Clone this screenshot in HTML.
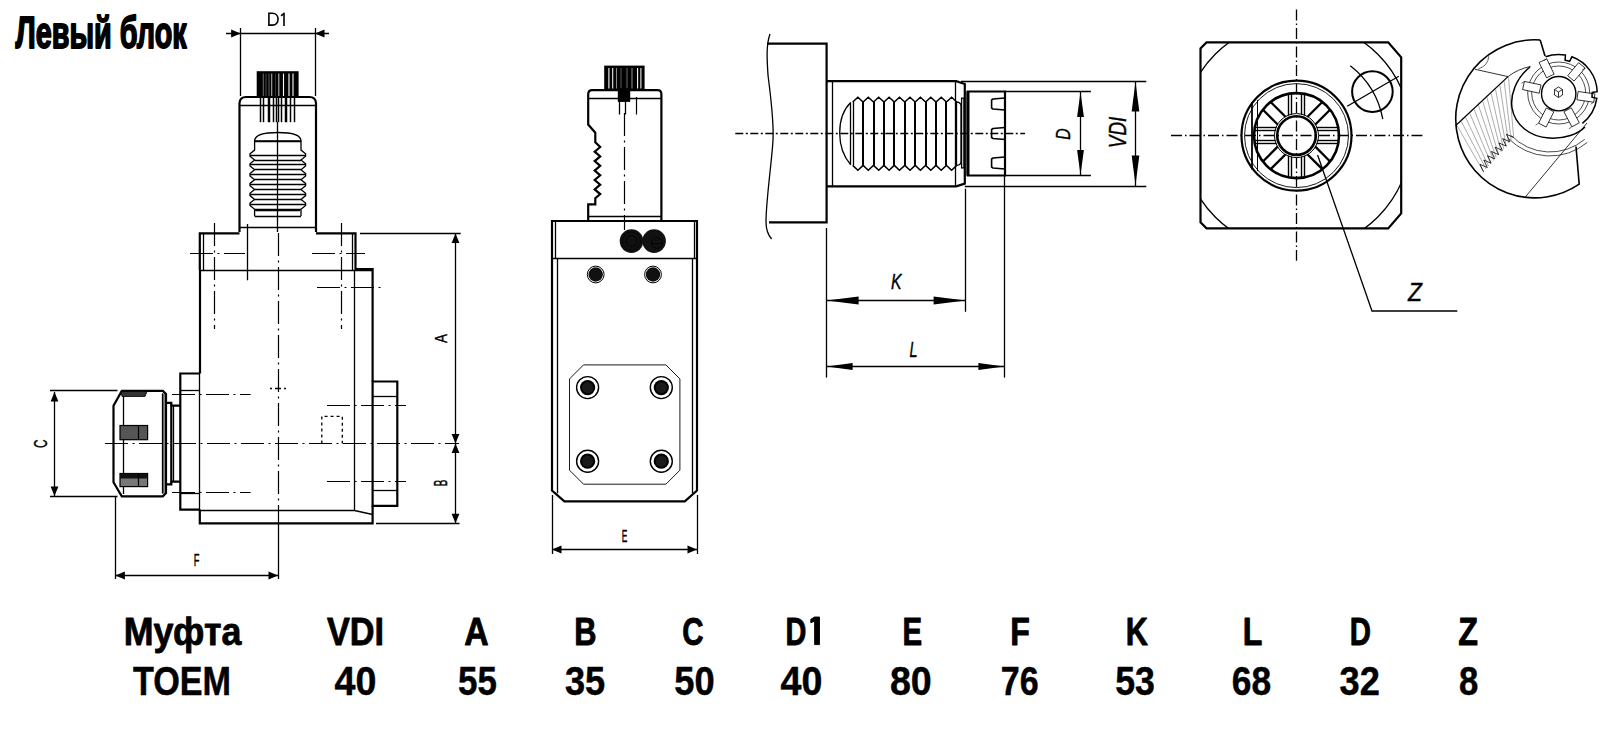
<!DOCTYPE html>
<html><head><meta charset="utf-8"><style>
html,body{margin:0;padding:0;background:#fff;width:1600px;height:733px;overflow:hidden}
svg{display:block;font-family:"Liberation Sans",sans-serif}
</style></head><body>
<svg width="1600" height="733" viewBox="0 0 1600 733" stroke="#000" fill="none" stroke-linecap="butt">
<g fill="#000">
<line x1="226.0" y1="33.5" x2="329.0" y2="33.5" stroke-width="1.3" />
<polygon points="240.6,33.5 231.1,37.4 231.1,29.6" fill="#000" stroke="none"/>
<polygon points="315.0,33.5 324.5,29.6 324.5,37.4" fill="#000" stroke="none"/>
<line x1="240.5" y1="28.0" x2="240.5" y2="96.0" stroke-width="1.3" />
<line x1="315.5" y1="28.0" x2="315.5" y2="96.0" stroke-width="1.3" />
<rect x="256.7" y="71.2" width="41.9" height="25.8" stroke-width="0" fill="#000"/>
<line x1="263.3" y1="73.5" x2="263.3" y2="96" stroke="#666" stroke-width="1.1"/>
<line x1="266" y1="73.5" x2="266" y2="96" stroke="#444" stroke-width="1.1"/>
<line x1="269" y1="73.5" x2="269" y2="96" stroke="#555" stroke-width="1.1"/>
<line x1="271.7" y1="73.5" x2="271.7" y2="96" stroke="#aaa" stroke-width="1.1"/>
<line x1="275.5" y1="73.5" x2="275.5" y2="96" stroke="#333" stroke-width="1.1"/>
<line x1="278.8" y1="73.5" x2="278.8" y2="96" stroke="#bbb" stroke-width="1.1"/>
<line x1="283.5" y1="73.5" x2="283.5" y2="96" stroke="#fff" stroke-width="1.1"/>
<line x1="289" y1="73.5" x2="289" y2="96" stroke="#fff" stroke-width="1.1"/>
<line x1="293" y1="73.5" x2="293" y2="96" stroke="#fff" stroke-width="1.1"/>
<line x1="260.5" y1="97.0" x2="260.5" y2="122.2" stroke-width="1.5" />
<line x1="263.5" y1="97.0" x2="263.5" y2="122.2" stroke-width="1.5" />
<line x1="268.5" y1="97.0" x2="268.5" y2="122.2" stroke-width="1.5" />
<line x1="269.5" y1="97.0" x2="269.5" y2="122.2" stroke-width="1.5" />
<line x1="273.5" y1="97.0" x2="273.5" y2="122.2" stroke-width="1.5" />
<line x1="276.5" y1="97.0" x2="276.5" y2="122.2" stroke-width="1.5" />
<line x1="278.5" y1="97.0" x2="278.5" y2="122.2" stroke-width="1.5" />
<line x1="281.5" y1="97.0" x2="281.5" y2="122.2" stroke-width="1.5" />
<line x1="285.5" y1="97.0" x2="285.5" y2="122.2" stroke-width="1.5" />
<line x1="286.5" y1="97.0" x2="286.5" y2="122.2" stroke-width="1.5" />
<line x1="290.5" y1="97.0" x2="290.5" y2="122.2" stroke-width="1.5" />
<line x1="294.5" y1="97.0" x2="294.5" y2="122.2" stroke-width="1.5" />
<path d="M239.5,232 L239.5,103 Q240,97 246,97 L309.5,97 Q315.5,97 316,103 L316,232" stroke-width="2.2" fill="none" />
<line x1="240.0" y1="105.5" x2="315.5" y2="105.5" stroke-width="1.3" />
<line x1="240.0" y1="227.5" x2="315.5" y2="227.5" stroke-width="1.3" />
<line x1="277.5" y1="122.0" x2="277.5" y2="232.0" stroke-width="1.3" />
<path d="M254.6,141 C254.6,134 266,132.5 277.8,132.5 C289.6,132.5 301,134 301,141 Z" stroke-width="1.3" fill="none" />
<path d="M254.6,141.0 L254.6,150.1 L250.0,153.8 L250.0,156.2 L254.6,160.0 L250.0,163.7 L250.0,166.0 L254.6,169.8 L250.0,173.5 L250.0,175.9 L254.6,179.7 L250.0,183.4 L250.0,185.8 L254.6,189.6 L250.0,193.2 L250.0,195.6 L254.6,199.4 L250.0,203.1 L250.0,205.4 L254.6,209.2 L254.6,216.0" stroke-width="1.3" fill="none" />
<path d="M301.0,141.0 L301.0,150.1 L305.6,153.8 L305.6,156.2 L301.0,160.0 L305.6,163.7 L305.6,166.0 L301.0,169.8 L305.6,173.5 L305.6,175.9 L301.0,179.7 L305.6,183.4 L305.6,185.8 L301.0,189.6 L305.6,193.2 L305.6,195.6 L301.0,199.4 L305.6,203.1 L305.6,205.4 L301.0,209.2 L301.0,216.0" stroke-width="1.3" fill="none" />
<line x1="254.6" y1="216.5" x2="301.0" y2="216.5" stroke-width="1.3" />
<line x1="254.6" y1="141.5" x2="301.0" y2="141.5" stroke-width="1.3" />
<line x1="250.0" y1="155.5" x2="305.6" y2="155.5" stroke-width="1.5" />
<line x1="254.6" y1="160.5" x2="301.0" y2="160.5" stroke-width="1.3" />
<line x1="250.0" y1="164.5" x2="305.6" y2="164.5" stroke-width="1.5" />
<line x1="254.6" y1="169.5" x2="301.0" y2="169.5" stroke-width="1.3" />
<line x1="250.0" y1="174.5" x2="305.6" y2="174.5" stroke-width="1.5" />
<line x1="254.6" y1="179.5" x2="301.0" y2="179.5" stroke-width="1.3" />
<line x1="250.0" y1="184.5" x2="305.6" y2="184.5" stroke-width="1.5" />
<line x1="254.6" y1="189.5" x2="301.0" y2="189.5" stroke-width="1.3" />
<line x1="250.0" y1="194.5" x2="305.6" y2="194.5" stroke-width="1.5" />
<line x1="254.6" y1="199.5" x2="301.0" y2="199.5" stroke-width="1.3" />
<line x1="250.0" y1="204.5" x2="305.6" y2="204.5" stroke-width="1.5" />
<line x1="254.6" y1="209.5" x2="301.0" y2="209.5" stroke-width="1.3" />
<line x1="255.2" y1="210.5" x2="299.9" y2="210.5" stroke-width="1.3" />
<path d="M199.8,270 L199.8,233.4 L239.5,233.4" stroke-width="2.2" fill="none" />
<path d="M316,233.4 L355.5,233.4 L355.5,270" stroke-width="2.2" fill="none" />
<line x1="203.5" y1="233.4" x2="203.5" y2="270.0" stroke-width="1.3" />
<line x1="352.5" y1="233.4" x2="352.5" y2="270.0" stroke-width="1.3" />
<line x1="199.8" y1="270.5" x2="372.6" y2="270.5" stroke-width="1.3" />
<path d="M355.5,269 L372.6,269 L372.6,381.5" stroke-width="2.2" fill="none" />
<path d="M372.6,505.8 L372.6,523.3 L199.8,523.3 L199.8,509.6" stroke-width="2.2" fill="none" />
<line x1="200.0" y1="270.0" x2="200.0" y2="373.5" stroke-width="2.2" />
<line x1="354.5" y1="270.0" x2="354.5" y2="510.5" stroke-width="1.3" />
<path d="M199.8,510.5 L354.5,510.5 L372.6,514.5" stroke-width="1.3" fill="none" />
<path d="M372.6,381.5 L397.3,381.5 L397.3,505.8 L372.6,505.8 Z" stroke-width="2.2" fill="none" />
<line x1="372.6" y1="396.5" x2="397.3" y2="396.5" stroke-width="1.3" />
<line x1="372.6" y1="490.5" x2="397.3" y2="490.5" stroke-width="1.3" />
<path d="M199.8,373.5 L180.3,373.5 L180.3,509.6 L199.8,509.6" stroke-width="2.2" fill="none" />
<line x1="180.3" y1="390.5" x2="199.8" y2="390.5" stroke-width="1.3" />
<line x1="180.3" y1="493.5" x2="199.8" y2="493.5" stroke-width="1.3" />
<line x1="199.5" y1="373.5" x2="199.5" y2="509.6" stroke-width="1.3" />
<path d="M180.3,405.6 L171.3,405.6 L171.3,481.6 L180.3,481.6" stroke-width="2.2" fill="none" />
<line x1="173.5" y1="405.6" x2="173.5" y2="481.6" stroke-width="1.3" />
<path d="M166,402.9 L171.3,402.9 L171.3,405.6 M166,484.3 L171.3,484.3 L171.3,481.6" stroke-width="2.2" fill="none" />
<rect x="162.3" y="393.5" width="2.5" height="100.0" stroke-width="0" fill="#777"/>
<path d="M121.8,390.9 L162.8,390.9 L166,394 L166,493 L162.8,496.3 L121.8,496.3 L113.5,482.3 L113.5,405.8 Z" stroke-width="2.2" fill="none" />
<line x1="123.5" y1="393.0" x2="123.5" y2="494.0" stroke-width="1.3" />
<line x1="162.5" y1="393.5" x2="162.5" y2="493.5" stroke-width="1.3" />
<rect x="120.0" y="425.5" width="27.6" height="14.2" stroke-width="1.2" fill="#555"/>
<line x1="138.5" y1="425.5" x2="138.5" y2="439.7" stroke-width="1.2" />
<rect x="120.0" y="473.5" width="27.6" height="13.1" stroke-width="1.2" fill="#777"/>
<rect x="120.0" y="473.5" width="27.6" height="5.0" stroke-width="0" fill="#111"/>
<line x1="138.5" y1="473.5" x2="138.5" y2="486.6" stroke-width="1.2" />
<path d="M121,391.5 L147,391.5 L145,396.5 L122,396.5 Z" stroke-width="0.8" fill="#333" />
<line x1="278.5" y1="233.0" x2="278.5" y2="523.3" stroke-width="1.2" stroke-dasharray="23 4.5 2 4.5"/>
<line x1="278.5" y1="523.3" x2="278.5" y2="579.0" stroke-width="1.3" />
<line x1="105.0" y1="443.5" x2="459.0" y2="443.5" stroke-width="1.2" stroke-dasharray="23 4.5 2 4.5"/>
<line x1="214.5" y1="223.0" x2="214.5" y2="329.0" stroke-width="1.2" stroke-dasharray="23 4.5 2 4.5"/>
<line x1="341.5" y1="223.0" x2="341.5" y2="329.0" stroke-width="1.2" stroke-dasharray="23 4.5 2 4.5"/>
<line x1="190.0" y1="253.5" x2="245.0" y2="253.5" stroke-width="1.2" stroke-dasharray="23 4.5 2 4.5"/>
<line x1="312.0" y1="253.5" x2="365.0" y2="253.5" stroke-width="1.2" stroke-dasharray="23 4.5 2 4.5"/>
<line x1="247.5" y1="224.0" x2="247.5" y2="280.3" stroke-width="1.3" />
<line x1="317.0" y1="287.5" x2="383.0" y2="287.5" stroke-width="1.2" stroke-dasharray="23 4.5 2 4.5"/>
<line x1="172.0" y1="394.5" x2="250.6" y2="394.5" stroke-width="1.2" stroke-dasharray="23 4.5 2 4.5"/>
<line x1="172.0" y1="492.5" x2="250.6" y2="492.5" stroke-width="1.2" stroke-dasharray="23 4.5 2 4.5"/>
<line x1="327.0" y1="405.5" x2="406.0" y2="405.5" stroke-width="1.2" stroke-dasharray="23 4.5 2 4.5"/>
<line x1="327.0" y1="481.5" x2="406.0" y2="481.5" stroke-width="1.2" stroke-dasharray="23 4.5 2 4.5"/>
<path d="M321.8,443.6 L321.8,416.4 L342.3,416.4 L342.3,443.6" stroke-width="1.3" fill="none" stroke-dasharray="3 3"/>
<line x1="270.0" y1="388.5" x2="289.0" y2="388.5" stroke-width="1.3" stroke-dasharray="2 3 6 3"/>
<line x1="455.5" y1="233.4" x2="455.5" y2="523.3" stroke-width="1.3" />
<polygon points="455.5,233.4 459.4,242.9 451.6,242.9" fill="#000" stroke="none"/>
<polygon points="455.5,443.6 451.6,434.1 459.4,434.1" fill="#000" stroke="none"/>
<polygon points="455.5,443.6 459.4,453.1 451.6,453.1" fill="#000" stroke="none"/>
<polygon points="455.5,523.3 451.6,513.8 459.4,513.8" fill="#000" stroke="none"/>
<line x1="360.0" y1="233.5" x2="460.7" y2="233.5" stroke-width="1.3" />
<line x1="376.0" y1="523.5" x2="459.5" y2="523.5" stroke-width="1.3" />
<line x1="54.5" y1="392.0" x2="54.5" y2="496.0" stroke-width="1.3" />
<polygon points="54.5,392.0 58.4,401.5 50.6,401.5" fill="#000" stroke="none"/>
<polygon points="54.5,496.0 50.6,486.5 58.4,486.5" fill="#000" stroke="none"/>
<line x1="50.0" y1="390.5" x2="117.5" y2="390.5" stroke-width="1.3" />
<line x1="50.0" y1="496.5" x2="117.5" y2="496.5" stroke-width="1.3" />
<line x1="115.5" y1="496.0" x2="115.5" y2="579.0" stroke-width="1.3" />
<line x1="115.4" y1="575.5" x2="278.0" y2="575.5" stroke-width="1.3" />
<polygon points="115.4,575.5 124.9,571.6 124.9,579.4" fill="#000" stroke="none"/>
<polygon points="278.0,575.5 268.5,579.4 268.5,571.6" fill="#000" stroke="none"/>
<rect x="604.2" y="65.6" width="40.4" height="24.6" stroke-width="0" fill="#000"/>
<line x1="608.9" y1="68" x2="608.9" y2="88.5" stroke="#fff" stroke-width="1.1"/>
<line x1="612.7" y1="68" x2="612.7" y2="88.5" stroke="#eee" stroke-width="1.1"/>
<line x1="616.5" y1="68" x2="616.5" y2="88.5" stroke="#888" stroke-width="1.1"/>
<line x1="621" y1="68" x2="621" y2="88.5" stroke="#555" stroke-width="1.1"/>
<line x1="627" y1="68" x2="627" y2="88.5" stroke="#666" stroke-width="1.1"/>
<line x1="632" y1="68" x2="632" y2="88.5" stroke="#888" stroke-width="1.1"/>
<line x1="637.6" y1="68" x2="637.6" y2="88.5" stroke="#fff" stroke-width="1.1"/>
<line x1="640.9" y1="68" x2="640.9" y2="88.5" stroke="#eee" stroke-width="1.1"/>
<rect x="617.8" y="88.0" width="12.4" height="13.9" stroke-width="0" fill="#000"/>
<line x1="619.5" y1="100.0" x2="619.5" y2="114.5" stroke-width="1.3" />
<line x1="636.5" y1="97.0" x2="636.5" y2="114.5" stroke-width="1.2" />
<line x1="625.5" y1="100.0" x2="625.5" y2="114.5" stroke-width="1.3" />
<path d="M661.4,221.2 L661.4,94.5 Q661.4,90.2 657.4,90.2 L592.2,90.2 Q588.2,90.2 588.2,94.5 L588.2,124.5 L595.3,132.7 L595.3,142.3 L600.2,147.0 L594.7,151.7 L600.2,156.4 L594.7,161.1 L600.2,165.8 L594.7,170.6 L600.2,175.3 L594.7,180.0 L600.2,184.7 L594.7,189.4 L600.2,194.1 L595.3,198.2 L595.3,204.4 L588.2,204.4 L588.2,221.2" stroke-width="2.2" fill="none" />
<line x1="588.0" y1="98.5" x2="661.0" y2="98.5" stroke-width="1.3" />
<line x1="588.0" y1="216.5" x2="661.0" y2="216.5" stroke-width="1.3" />
<line x1="624.5" y1="113.0" x2="624.5" y2="230.0" stroke-width="1.2" stroke-dasharray="23 4.5 2 4.5"/>
<path d="M552,221 L697,221 L697,490.5 L684.8,501.4 L564.4,501.4 L552,490.5 Z" stroke-width="2.2" fill="none" />
<line x1="555.5" y1="221.0" x2="555.5" y2="258.0" stroke-width="1.3" />
<line x1="694.5" y1="221.0" x2="694.5" y2="258.0" stroke-width="1.3" />
<line x1="552.0" y1="258.5" x2="697.0" y2="258.5" stroke-width="1.3" />
<line x1="557.5" y1="258.0" x2="557.5" y2="493.3" stroke-width="1.3" />
<line x1="692.5" y1="258.0" x2="692.5" y2="493.3" stroke-width="1.3" />
<circle cx="631.5" cy="241.1" r="11.8" stroke-width="0" fill="#111"/>
<circle cx="654.1" cy="241.1" r="11.8" stroke-width="0" fill="#111"/>
<circle cx="631.5" cy="241.1" r="5.5" stroke-width="0.8" fill="none"/>
<circle cx="631.5" cy="241.1" r="9.0" stroke-width="0.6" fill="none"/>
<circle cx="657.0" cy="243.0" r="5.5" stroke-width="0.8" fill="none"/>
<line x1="651.5" y1="243.5" x2="662.0" y2="243.5" stroke-width="0.8" />
<circle cx="595.7" cy="274.5" r="8.4" stroke-width="1.0" fill="none"/>
<circle cx="595.7" cy="274.5" r="7.2" stroke-width="0" fill="#111"/>
<circle cx="653.0" cy="274.5" r="8.4" stroke-width="1.0" fill="none"/>
<circle cx="653.0" cy="274.5" r="7.2" stroke-width="0" fill="#111"/>
<path d="M583.5,364.9 L665.9,364.9 L679.9,378.9 L679.9,470.2 L665.9,484.2 L583.5,484.2 L569.5,470.2 L569.5,378.9 Z" stroke-width="0.9" fill="none" />
<circle cx="587.6" cy="387.6" r="11.0" stroke-width="1.4" fill="none"/>
<circle cx="587.6" cy="387.6" r="7.6" stroke-width="0" fill="#000"/>
<circle cx="587.6" cy="387.6" r="5.6" stroke-width="0" fill="#1a1a1a"/>
<circle cx="661.3" cy="387.6" r="11.0" stroke-width="1.4" fill="none"/>
<circle cx="661.3" cy="387.6" r="7.6" stroke-width="0" fill="#000"/>
<circle cx="661.3" cy="387.6" r="5.6" stroke-width="0" fill="#1a1a1a"/>
<circle cx="587.6" cy="461.2" r="11.0" stroke-width="1.4" fill="none"/>
<circle cx="587.6" cy="461.2" r="7.6" stroke-width="0" fill="#000"/>
<circle cx="587.6" cy="461.2" r="5.6" stroke-width="0" fill="#1a1a1a"/>
<circle cx="661.3" cy="461.2" r="11.0" stroke-width="1.4" fill="none"/>
<circle cx="661.3" cy="461.2" r="7.6" stroke-width="0" fill="#000"/>
<circle cx="661.3" cy="461.2" r="5.6" stroke-width="0" fill="#1a1a1a"/>
<line x1="552.5" y1="495.0" x2="552.5" y2="554.0" stroke-width="1.3" />
<line x1="697.5" y1="495.0" x2="697.5" y2="554.0" stroke-width="1.3" />
<line x1="552.0" y1="549.5" x2="697.0" y2="549.5" stroke-width="1.3" />
<polygon points="552.0,549.5 561.5,545.6 561.5,553.4" fill="#000" stroke="none"/>
<polygon points="697.0,549.5 687.5,553.4 687.5,545.6" fill="#000" stroke="none"/>
<path d="M770,34 C766,45 767,60 768,75 C771,100 774,120 773,140 C772,160 766,200 766,222 C766,230 769,236 771.6,239" stroke-width="1.3" fill="none" />
<path d="M767,43.7 L826.6,43.7 L826.6,222.4 L769,222.4" stroke-width="2.2" fill="none" />
<path d="M826.6,81.2 L956.2,81.2 L964.8,84 L964.8,183.6 L956.2,186.4 L826.6,186.4" stroke-width="2.2" fill="none" />
<line x1="832.5" y1="81.2" x2="832.5" y2="186.4" stroke-width="1.3" />
<line x1="955.5" y1="81.2" x2="955.5" y2="186.4" stroke-width="1.3" />
<path d="M852.7,102.0 L857.9,97.3 L863.1,102.0 L868.3,97.3 L873.5,102.0 L878.7,97.3 L883.9,102.0 L889.1,97.3 L894.3,102.0 L899.5,97.3 L904.8,102.0 L910.0,97.3 L915.2,102.0 L920.4,97.3 L925.6,102.0 L930.8,97.3 L936.0,102.0 L941.2,97.3 L946.4,102.0 L951.6,97.3 L956.8,102.0" stroke-width="1.5" fill="none" />
<path d="M852.7,165.4 L857.9,170.3 L863.1,165.4 L868.3,170.3 L873.5,165.4 L878.7,170.3 L883.9,165.4 L889.1,170.3 L894.3,165.4 L899.5,170.3 L904.8,165.4 L910.0,170.3 L915.2,165.4 L920.4,170.3 L925.6,165.4 L930.8,170.3 L936.0,165.4 L941.2,170.3 L946.4,165.4 L951.6,170.3 L956.8,165.4" stroke-width="1.5" fill="none" />
<line x1="863.0" y1="102.0" x2="863.0" y2="165.4" stroke-width="2.0" />
<line x1="874.0" y1="102.0" x2="874.0" y2="165.4" stroke-width="2.0" />
<line x1="884.0" y1="102.0" x2="884.0" y2="165.4" stroke-width="2.0" />
<line x1="894.0" y1="102.0" x2="894.0" y2="165.4" stroke-width="2.0" />
<line x1="905.0" y1="102.0" x2="905.0" y2="165.4" stroke-width="2.0" />
<line x1="915.0" y1="102.0" x2="915.0" y2="165.4" stroke-width="2.0" />
<line x1="926.0" y1="102.0" x2="926.0" y2="165.4" stroke-width="2.0" />
<line x1="936.0" y1="102.0" x2="936.0" y2="165.4" stroke-width="2.0" />
<line x1="946.0" y1="102.0" x2="946.0" y2="165.4" stroke-width="2.0" />
<line x1="850.5" y1="102.5" x2="850.5" y2="164.7" stroke-width="1.3" />
<line x1="853.5" y1="102.0" x2="853.5" y2="165.4" stroke-width="1.3" />
<line x1="956.5" y1="102.0" x2="956.5" y2="165.4" stroke-width="1.3" />
<path d="M850.7,102.5 C843,110 839.7,122 839.7,133 C839.7,144 843,156 850.7,164.7" stroke-width="1.3" fill="none" />
<path d="M956.8,102 Q961,102.5 961,106 L961,161.5 Q961,165 956.8,165.4" stroke-width="1.3" fill="none" />
<rect x="961.6" y="98.2" width="2.4" height="69.7" stroke-width="1.3" fill="none"/>
<path d="M967.7,91.5 L1005,91.5 L1005,175.5 L967.7,175.5 Z" stroke-width="2.2" fill="none" />
<line x1="968.0" y1="91.5" x2="968.0" y2="175.5" stroke-width="3" />
<path d="M1005,98 L993,99 L991.6,100 L991.6,108 L993,109 L1005,110" stroke-width="1.6" fill="none" />
<path d="M1005,127.5 L993,128.5 L991.6,129.5 L991.6,137.5 L993,138.5 L1005,139.5" stroke-width="1.6" fill="none" />
<path d="M1005,157 L993,158 L991.6,159 L991.6,167 L993,168 L1005,169" stroke-width="1.6" fill="none" />
<line x1="735.3" y1="133.5" x2="1025.0" y2="133.5" stroke-width="1.5" stroke-dasharray="8 2.5 2 2.5"/>
<line x1="961.0" y1="81.5" x2="1146.3" y2="81.5" stroke-width="1.3" />
<line x1="964.8" y1="186.5" x2="1146.3" y2="186.5" stroke-width="1.3" />
<line x1="1135.5" y1="81.0" x2="1135.5" y2="186.0" stroke-width="1.3" />
<polygon points="1135.5,81.5 1139.3,111.5 1131.7,111.5" fill="#000" stroke="none"/>
<polygon points="1135.5,185.5 1131.7,155.5 1139.3,155.5" fill="#000" stroke="none"/>
<line x1="1005.0" y1="91.5" x2="1090.9" y2="91.5" stroke-width="1.3" />
<line x1="1005.0" y1="175.5" x2="1090.9" y2="175.5" stroke-width="1.3" />
<line x1="1080.5" y1="91.5" x2="1080.5" y2="175.5" stroke-width="1.3" />
<polygon points="1080.5,92.0 1083.9,117.0 1077.1,117.0" fill="#000" stroke="none"/>
<polygon points="1080.5,175.0 1077.1,150.0 1083.9,150.0" fill="#000" stroke="none"/>
<line x1="826.5" y1="228.0" x2="826.5" y2="377.6" stroke-width="1.3" />
<line x1="965.5" y1="188.6" x2="965.5" y2="311.8" stroke-width="1.3" />
<line x1="1004.5" y1="175.5" x2="1004.5" y2="377.6" stroke-width="1.3" />
<line x1="826.6" y1="300.5" x2="965.6" y2="300.5" stroke-width="1.3" />
<polygon points="826.6,300.5 858.6,296.5 858.6,304.5" fill="#000" stroke="none"/>
<polygon points="965.6,300.5 933.6,304.5 933.6,296.5" fill="#000" stroke="none"/>
<line x1="826.6" y1="366.5" x2="1004.4" y2="366.5" stroke-width="1.3" />
<polygon points="826.6,366.5 852.6,362.9 852.6,370.1" fill="#000" stroke="none"/>
<polygon points="1004.4,366.5 978.4,370.1 978.4,362.9" fill="#000" stroke="none"/>
<path d="M1206.5,42.4 L1388.2,42.4 L1401.2,57.4 L1401.2,213.4 L1388.2,228.4 L1206.5,228.4 L1200.5,222.4 L1200.5,48.4 Z" stroke-width="2.2" fill="none" />
<clipPath id="sq"><rect x="1200.5" y="42.4" width="200.70000000000005" height="186.0"/></clipPath>
<circle cx="1296.5" cy="135.6" r="115" stroke-width="1.3" fill="none" clip-path="url(#sq)"/>
<line x1="1296.5" y1="9.6" x2="1296.5" y2="260.7" stroke-width="1.3" stroke-dasharray="11 3 1.5 3"/>
<line x1="1171.0" y1="135.5" x2="1422.4" y2="135.5" stroke-width="1.3" stroke-dasharray="11 3 1.5 3"/>
<circle cx="1296.5" cy="135.6" r="55.0" stroke-width="2.2" fill="none"/>
<circle cx="1296.5" cy="135.6" r="52.0" stroke-width="0.9" fill="none"/>
<circle cx="1296.5" cy="135.6" r="42.5" stroke-width="2.6" fill="none"/>
<circle cx="1296.5" cy="135.6" r="22.0" stroke-width="1.0" fill="none"/>
<circle cx="1296.5" cy="135.6" r="19.3" stroke-width="2.6" fill="none"/>
<line x1="1316.5" y1="127.5" x2="1337.8" y2="127.5" stroke-width="1.4" />
<line x1="1317.4" y1="130.5" x2="1338.2" y2="130.5" stroke-width="1.4" />
<line x1="1317.4" y1="140.5" x2="1338.2" y2="140.5" stroke-width="1.4" />
<line x1="1316.5" y1="143.5" x2="1337.8" y2="143.5" stroke-width="1.4" />
<line x1="1315.1" y1="146.4" x2="1329.8" y2="161.2" stroke-width="2.3" />
<line x1="1307.3" y1="154.2" x2="1322.1" y2="168.9" stroke-width="2.3" />
<line x1="1304.5" y1="155.6" x2="1304.5" y2="176.9" stroke-width="1.4" />
<line x1="1301.5" y1="156.5" x2="1301.5" y2="177.3" stroke-width="1.4" />
<line x1="1291.5" y1="156.5" x2="1291.5" y2="177.3" stroke-width="1.4" />
<line x1="1288.5" y1="155.6" x2="1288.5" y2="176.9" stroke-width="1.4" />
<line x1="1285.7" y1="154.2" x2="1270.9" y2="168.9" stroke-width="2.3" />
<line x1="1277.9" y1="146.4" x2="1263.2" y2="161.2" stroke-width="2.3" />
<line x1="1276.5" y1="143.5" x2="1255.2" y2="143.5" stroke-width="1.4" />
<line x1="1275.6" y1="140.5" x2="1254.8" y2="140.5" stroke-width="1.4" />
<line x1="1275.6" y1="130.5" x2="1254.8" y2="130.5" stroke-width="1.4" />
<line x1="1276.5" y1="127.5" x2="1255.2" y2="127.5" stroke-width="1.4" />
<line x1="1277.9" y1="124.8" x2="1263.2" y2="110.0" stroke-width="2.3" />
<line x1="1285.7" y1="117.0" x2="1270.9" y2="102.3" stroke-width="2.3" />
<line x1="1288.5" y1="115.6" x2="1288.5" y2="94.3" stroke-width="1.4" />
<line x1="1291.5" y1="114.7" x2="1291.5" y2="93.9" stroke-width="1.4" />
<line x1="1301.5" y1="114.7" x2="1301.5" y2="93.9" stroke-width="1.4" />
<line x1="1304.5" y1="115.6" x2="1304.5" y2="94.3" stroke-width="1.4" />
<line x1="1307.3" y1="117.0" x2="1322.1" y2="102.3" stroke-width="2.3" />
<line x1="1315.1" y1="124.8" x2="1329.8" y2="110.0" stroke-width="2.3" />
<line x1="1252.0" y1="102.0" x2="1252.0" y2="169.4" stroke-width="1.8" />
<line x1="1257.5" y1="100.0" x2="1257.5" y2="171.0" stroke-width="1.0" />
<path d="M1350.3,65.8 A88 88 0 0 1 1382.8,119.2" stroke-width="1.3" fill="none"/>
<circle cx="1372.4" cy="91.6" r="20.3" stroke-width="2.0" fill="none"/>
<line x1="1347.2" y1="106.3" x2="1398.8" y2="76.2" stroke-width="1.3" />
<path d="M1317.6,155 L1372,311 L1457.3,311" stroke-width="1.3" fill="none" />
<g><path d="M1511.2,135.5 A54 54 0 0 0 1584.7,139.4" stroke-width="0.7" fill="none"/><path d="M1508.3,138.3 A58 58 0 0 0 1587.3,142.4" stroke-width="0.7" fill="none"/><line x1="1457.0" y1="125.5" x2="1483.5" y2="171.8" stroke="#888" stroke-width="0.7"/><line x1="1461.3" y1="121.5" x2="1486.0" y2="168.9" stroke="#888" stroke-width="0.7"/><line x1="1465.6" y1="117.5" x2="1488.5" y2="166.1" stroke="#888" stroke-width="0.7"/><line x1="1469.9" y1="113.5" x2="1491.0" y2="163.2" stroke="#888" stroke-width="0.7"/><line x1="1474.2" y1="109.5" x2="1493.6" y2="160.4" stroke="#888" stroke-width="0.7"/><line x1="1478.5" y1="105.5" x2="1496.1" y2="157.5" stroke="#888" stroke-width="0.7"/><line x1="1482.8" y1="101.5" x2="1498.6" y2="154.7" stroke="#888" stroke-width="0.7"/><line x1="1487.0" y1="97.5" x2="1501.1" y2="151.8" stroke="#888" stroke-width="0.7"/><line x1="1491.3" y1="93.5" x2="1503.6" y2="148.9" stroke="#888" stroke-width="0.7"/><line x1="1495.6" y1="89.5" x2="1506.2" y2="146.1" stroke="#888" stroke-width="0.7"/><line x1="1499.9" y1="85.5" x2="1508.7" y2="143.2" stroke="#888" stroke-width="0.7"/><line x1="1504.2" y1="81.5" x2="1511.2" y2="140.4" stroke="#888" stroke-width="0.7"/><line x1="1508.5" y1="77.5" x2="1513.7" y2="137.5" stroke="#888" stroke-width="0.7"/><polyline points="1483.5,171.8 1480.0,164.3 1487.3,167.5 1483.8,160.0 1491.0,163.2 1487.5,155.7 1494.8,158.9 1491.3,151.4 1498.6,154.7 1495.1,147.2 1502.4,150.4 1498.9,142.9 1506.2,146.1 1502.7,138.6 1509.9,141.8 1506.4,134.3 1513.7,137.5" stroke-width="0.8" fill="none"/><path d="M1455.5,125.7 L1508,76.6" stroke-width="1.3" fill="none"/><path d="M1475,69.3 L1508,76.6" stroke-width="0.8" fill="none"/><path d="M1508,76.6 Q1518,69 1530.5,66.4" stroke-width="0.8" fill="none"/><path d="M1488.8,56.2 Q1488,66 1478.4,68.8" stroke-width="0.6" fill="none"/><path d="M1525.2,197.2 L1587,123" stroke-width="0.8" fill="none"/><path d="M1530,67 C1516,78 1510,95 1512,108 C1515,125 1530,137 1549,138 C1565,139 1578,134 1585,127" stroke-width="1.5" fill="none"/><path d="M1540.2,40 A79 79 0 1 0 1579.2,184.1 L1576,146.5" stroke-width="1.6" fill="none"/><path d="M1540.2,40 L1545,56" stroke-width="1.6" fill="none"/><circle cx="1558.7" cy="93" r="31" stroke-width="0.7" fill="none"/><circle cx="1558.7" cy="93" r="27" stroke-width="0.7" fill="none"/><polygon points="1541.0,84.9 1524.4,81.4 1522.6,89.6 1539.2,93.2" stroke-width="0.8" fill="#fff"/><line x1="1524.4" y1="81.4" x2="1521.4" y2="83.4" stroke-width="0.6"/><polygon points="1554.1,74.1 1546.7,58.8 1539.1,62.5 1546.6,77.8" stroke-width="0.8" fill="#fff"/><line x1="1546.7" y1="58.8" x2="1543.7" y2="60.8" stroke-width="0.6"/><polygon points="1574.1,81.1 1585.1,68.1 1578.6,62.7 1567.7,75.7" stroke-width="0.8" fill="#fff"/><line x1="1585.1" y1="68.1" x2="1582.1" y2="70.1" stroke-width="0.6"/><polygon points="1576.9,99.8 1593.8,102.2 1594.9,93.9 1578.1,91.5" stroke-width="0.8" fill="#fff"/><line x1="1593.8" y1="102.2" x2="1590.8" y2="104.2" stroke-width="0.6"/><polygon points="1563.9,111.7 1571.9,126.8 1579.3,122.8 1571.3,107.8" stroke-width="0.8" fill="#fff"/><line x1="1571.9" y1="126.8" x2="1568.9" y2="128.8" stroke-width="0.6"/><polygon points="1546.3,108.0 1538.6,123.2 1546.1,127.0 1553.8,111.8" stroke-width="0.8" fill="#fff"/><line x1="1538.6" y1="123.2" x2="1535.6" y2="125.2" stroke-width="0.6"/><path d="M1545.5,56.8 A38.5 38.5 0 0 1 1565.4,55.1 L1565.1,60.1 L1569.6,61.3 L1571.9,56.8 A38.5 38.5 0 0 1 1597.2,91.7 L1592.2,92.4 L1592.0,97.1 L1596.8,98.4 A38.5 38.5 0 0 1 1582.4,123.3 " stroke-width="1.5" fill="none"/><circle cx="1558.7" cy="93.7" r="17.2" stroke-width="1.4" fill="#fff"/><path d="M1554.5,89.5 L1558.5,87 L1562.5,89.5 L1562.5,95 L1558.5,97.5 L1554.5,95 Z M1554.5,89.5 L1558.5,92 L1562.5,89.5 M1558.5,92 L1558.5,97.5" stroke-width="0.8" fill="none"/></g>
<path d="M268.9,13.3 L272.3,13.3 C276,13.3 278,16 278,19.2 C278,22.4 276,25.1 272.3,25.1 L268.9,25.1 Z" stroke-width="1.6" fill="none" />
<path d="M281.1,15.8 L284,13.3 L284,25.9" stroke-width="1.6" fill="none" stroke-linejoin="round"/>
<text transform="translate(447.03,343.03) rotate(-90) scale(0.1351,0.1717)" font-size="100" font-style="normal" font-weight="normal" stroke="#000" stroke-width="2.282" stroke-linejoin="round" fill="#000">A</text>
<text transform="translate(447.12,486.32) rotate(-90) scale(0.0978,0.1775)" font-size="100" font-style="normal" font-weight="normal" stroke="#000" stroke-width="2.543" stroke-linejoin="round" fill="#000">B</text>
<text transform="translate(46.95,448.12) rotate(-90) scale(0.1188,0.1796)" font-size="100" font-style="normal" font-weight="normal" stroke="#000" stroke-width="2.346" stroke-linejoin="round" fill="#000">C</text>
<text transform="translate(193.77,566.42) scale(0.0926,0.1703)" font-size="100" font-style="normal" font-weight="normal" stroke="#000" stroke-width="2.662" stroke-linejoin="round" fill="#000">F</text>
<text transform="translate(621.78,542.32) scale(0.0843,0.1717)" font-size="100" font-style="normal" font-weight="normal" stroke="#000" stroke-width="2.734" stroke-linejoin="round" fill="#000">E</text>
<text transform="translate(890.88,289.12) scale(0.1585,0.2225)" font-size="100" font-style="italic" font-weight="normal" stroke="#000" stroke-width="1.838" stroke-linejoin="round" fill="#000">K</text>
<text transform="translate(909.38,357.03) scale(0.1437,0.2239)" font-size="100" font-style="italic" font-weight="normal" stroke="#000" stroke-width="1.904" stroke-linejoin="round" fill="#000">L</text>
<text transform="translate(1069.83,139.83) rotate(-90) scale(0.1576,0.1949)" font-size="100" font-style="italic" font-weight="normal" stroke="#000" stroke-width="1.985" stroke-linejoin="round" fill="#000">D</text>
<text transform="translate(1125.72,148.23) rotate(-90) scale(0.1895,0.2341)" font-size="100" font-style="italic" font-weight="normal" stroke="#000" stroke-width="1.653" stroke-linejoin="round" fill="#000">VDI</text>
<text transform="translate(1408.03,301.43) scale(0.2295,0.2572)" font-size="100" font-style="italic" font-weight="normal" stroke="#000" stroke-width="1.438" stroke-linejoin="round" fill="#000">Z</text>
<text transform="translate(15.60,48.15) scale(0.6481,1)" font-size="44.42" font-weight="bold" font-style="normal" stroke="#000" stroke-width="1.85" stroke-linejoin="round" fill="#000">Левый блок</text>
<text transform="translate(123.75,644.95) scale(0.9126,1)" font-size="39.28" font-weight="bold" font-style="normal" stroke="#000" stroke-width="0.77" stroke-linejoin="round" fill="#000">Муфта</text>
<text transform="translate(326.95,644.95) scale(0.8732,1)" font-size="39.28" font-weight="bold" font-style="normal" stroke="#000" stroke-width="0.80" stroke-linejoin="round" fill="#000">VDI</text>
<text transform="translate(464.35,644.95) scale(0.8593,1)" font-size="39.28" font-weight="bold" font-style="normal" stroke="#000" stroke-width="0.81" stroke-linejoin="round" fill="#000">A</text>
<text transform="translate(574.35,644.95) scale(0.7851,1)" font-size="39.28" font-weight="bold" font-style="normal" stroke="#000" stroke-width="0.89" stroke-linejoin="round" fill="#000">B</text>
<text transform="translate(682.25,644.95) scale(0.7497,1)" font-size="39.28" font-weight="bold" font-style="normal" stroke="#000" stroke-width="0.93" stroke-linejoin="round" fill="#000">C</text>
<text transform="translate(785.55,644.95) scale(0.7355,1)" font-size="39.28" font-weight="bold" font-style="normal" stroke="#000" stroke-width="0.95" stroke-linejoin="round" fill="#000">D</text>
<text transform="translate(902.55,644.95) scale(0.7504,1)" font-size="39.28" font-weight="bold" font-style="normal" stroke="#000" stroke-width="0.93" stroke-linejoin="round" fill="#000">E</text>
<text transform="translate(1010.35,644.95) scale(0.8181,1)" font-size="39.28" font-weight="bold" font-style="normal" stroke="#000" stroke-width="0.86" stroke-linejoin="round" fill="#000">F</text>
<text transform="translate(1125.65,644.95) scale(0.7815,1)" font-size="39.28" font-weight="bold" font-style="normal" stroke="#000" stroke-width="0.90" stroke-linejoin="round" fill="#000">K</text>
<text transform="translate(1242.85,644.95) scale(0.8181,1)" font-size="39.28" font-weight="bold" font-style="normal" stroke="#000" stroke-width="0.86" stroke-linejoin="round" fill="#000">L</text>
<text transform="translate(1349.75,644.95) scale(0.7479,1)" font-size="39.28" font-weight="bold" font-style="normal" stroke="#000" stroke-width="0.94" stroke-linejoin="round" fill="#000">D</text>
<text transform="translate(1458.35,644.95) scale(0.8223,1)" font-size="39.28" font-weight="bold" font-style="normal" stroke="#000" stroke-width="0.85" stroke-linejoin="round" fill="#000">Z</text>
<path d="M814.6,617 L819.5,617 L819.5,644.6 L814.6,644.6 Z M814.6,617 L810.8,619.3 L810.8,622.8 L814.6,621.2 Z" fill="#000" stroke="#000" stroke-width="0.9" stroke-linejoin="round"/>
<text transform="translate(133.00,695.10) scale(0.8453,1)" font-size="40.43" font-weight="bold" font-style="normal" stroke="#000" stroke-width="0.47" stroke-linejoin="round" fill="#000">TOEM</text>
<text transform="translate(334.60,695.10) scale(0.9313,1)" font-size="40.43" font-weight="bold" font-style="normal" stroke="#000" stroke-width="0.43" stroke-linejoin="round" fill="#000">40</text>
<text transform="translate(458.00,695.10) scale(0.8622,1)" font-size="40.43" font-weight="bold" font-style="normal" stroke="#000" stroke-width="0.46" stroke-linejoin="round" fill="#000">55</text>
<text transform="translate(564.90,695.10) scale(0.8957,1)" font-size="40.43" font-weight="bold" font-style="normal" stroke="#000" stroke-width="0.45" stroke-linejoin="round" fill="#000">35</text>
<text transform="translate(674.20,695.10) scale(0.8979,1)" font-size="40.43" font-weight="bold" font-style="normal" stroke="#000" stroke-width="0.45" stroke-linejoin="round" fill="#000">50</text>
<text transform="translate(780.50,695.10) scale(0.9313,1)" font-size="40.43" font-weight="bold" font-style="normal" stroke="#000" stroke-width="0.43" stroke-linejoin="round" fill="#000">40</text>
<text transform="translate(889.90,695.10) scale(0.9313,1)" font-size="40.43" font-weight="bold" font-style="normal" stroke="#000" stroke-width="0.43" stroke-linejoin="round" fill="#000">80</text>
<text transform="translate(1000.80,695.10) scale(0.8411,1)" font-size="40.43" font-weight="bold" font-style="normal" stroke="#000" stroke-width="0.48" stroke-linejoin="round" fill="#000">76</text>
<text transform="translate(1115.20,695.10) scale(0.8823,1)" font-size="40.43" font-weight="bold" font-style="normal" stroke="#000" stroke-width="0.45" stroke-linejoin="round" fill="#000">53</text>
<text transform="translate(1231.80,695.10) scale(0.8745,1)" font-size="40.43" font-weight="bold" font-style="normal" stroke="#000" stroke-width="0.46" stroke-linejoin="round" fill="#000">68</text>
<text transform="translate(1339.60,695.10) scale(0.8957,1)" font-size="40.43" font-weight="bold" font-style="normal" stroke="#000" stroke-width="0.45" stroke-linejoin="round" fill="#000">32</text>
<text transform="translate(1458.95,695.10) scale(0.8578,1)" font-size="40.43" font-weight="bold" font-style="normal" stroke="#000" stroke-width="0.47" stroke-linejoin="round" fill="#000">8</text>
</g>
</svg>
</body></html>
